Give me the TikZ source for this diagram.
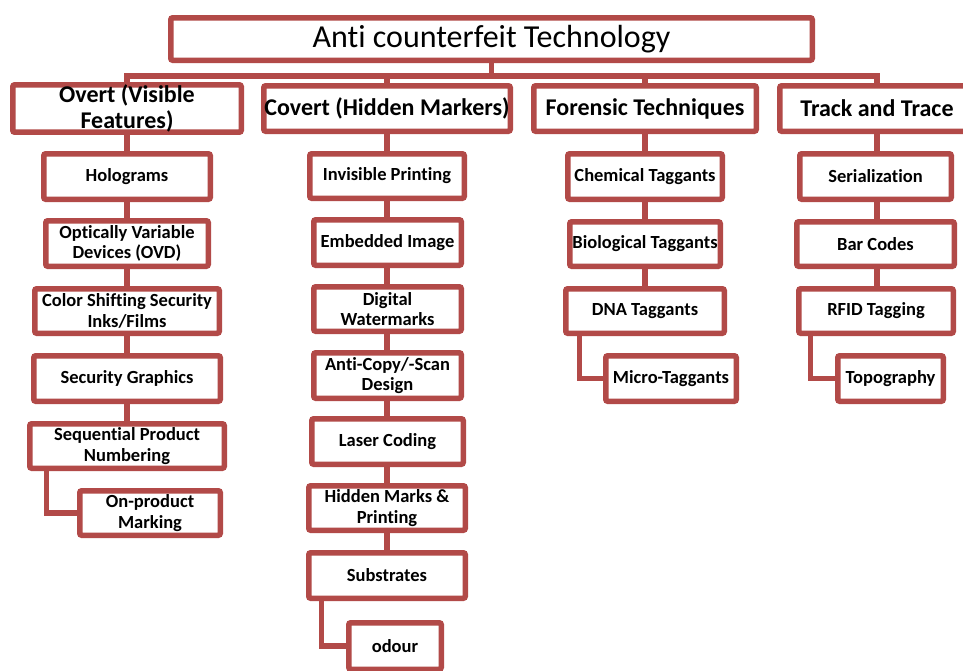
\documentclass[tikz,border=0pt]{standalone}
\usepackage{fontspec}
\setmainfont{Carlito}[Ligatures=NoCommon]
\usetikzlibrary{backgrounds}
\definecolor{boxred}{RGB}{178,74,72}
\tikzset{
  base/.style={draw=boxred, line width=5.5pt, fill=white, rounded corners=2pt,
    inner sep=0pt, align=center, text=black},
  item/.style={base, font=\bfseries\fontsize{18.5}{20.5}\selectfont},
  head/.style={base, font=\bfseries\fontsize{24}{26}\selectfont},
  ttl/.style={base, font=\fontsize{32}{34}\selectfont},
  conn/.style={draw=boxred, line width=5.5pt}
}
\newcommand\mkbox[7]{%
  \pgfmathsetmacro\bcx{(#3+#5)/2}%
  \pgfmathsetmacro\bcy{(#4+#6)/2}%
  \pgfmathsetmacro\bw{#5-#3-5.5}%
  \pgfmathsetmacro\bh{#6-#4-5.5}%
  \node[#1, minimum width=\bw pt, minimum height=\bh pt] (#2) at (\bcx,\bcy) {#7};}
\begin{document}
\begin{tikzpicture}[x=1pt,y=-1pt]
\useasboundingbox (0,0) rectangle (963,670);
\mkbox{ttl}{title}{168}{15}{815}{63}{Anti counterfeit Technology}
\mkbox{head}{overt}{10}{83}{244}{134}{Overt (Visible\\Features)}
\mkbox{head}{covert}{261}{83}{513}{134}{Covert (Hidden Markers)}
\mkbox{head}{foren}{531}{83}{759}{134}{Forensic Techniques}
\mkbox{head}{track}{777}{83}{977}{134}{Track and Trace}
% Overt
\mkbox{item}{holo}{41}{151}{213}{202}{Holograms}
\mkbox{item}{ovd}{43}{218}{211}{269}{Optically Variable\\Devices (OVD)}
\mkbox{item}{color}{32}{286}{222}{336}{Color Shifting Security\\Inks/Films}
\mkbox{item}{secg}{31}{353}{223}{404}{Security Graphics}
\mkbox{item}{seq}{27}{421}{227}{471}{Sequential Product\\Numbering}
\mkbox{item}{onp}{77}{488}{223}{538}{On-product\\Marking}
% Covert
\mkbox{item}{invis}{307}{151}{467}{201}{Invisible Printing}
\mkbox{item}{embed}{311}{217}{464}{268}{Embedded Image}
\mkbox{item}{digit}{311}{284}{464}{334}{Digital\\Watermarks}
\mkbox{item}{anti}{311}{350}{464}{401}{Anti-Copy/-Scan\\Design}
\mkbox{item}{laser}{309}{416}{466}{467}{Laser Coding}
\mkbox{item}{hidden}{306}{483}{468}{533}{Hidden Marks \&\\Printing}
\mkbox{item}{subs}{306}{550}{468}{601}{Substrates}
\mkbox{item}{odour}{346}{620}{444}{672}{odour}
% Forensic
\mkbox{item}{chem}{565}{151}{725}{202}{Chemical Taggants}
\mkbox{item}{bio}{567}{219}{723}{269}{Biological Taggants}
\mkbox{item}{dna}{563}{286}{727}{336}{DNA Taggants}
\mkbox{item}{micro}{603}{353}{739}{404}{Micro-Taggants}
% Track
\mkbox{item}{serial}{797}{151}{954}{202}{Serialization}
\mkbox{item}{bar}{794}{219}{957}{269}{Bar Codes}
\mkbox{item}{rfid}{796}{286}{956}{336}{RFID Tagging}
\mkbox{item}{topo}{835}{353}{946}{404}{Topography}
\begin{scope}[on background layer]
\coordinate (bus) at (0,76);
\draw[conn] (overt.north) |- (bus -| track.north) -- (track.north);
\draw[conn] (title.south) -- (title.south |- bus);
\draw[conn] (covert.north) -- (covert.north |- bus);
\draw[conn] (foren.north) -- (foren.north |- bus);
\draw[conn] (overt.south) -- (overt.south |- seq.north);
\draw[conn] (covert.south) -- (covert.south |- subs.north);
\draw[conn] (foren.south) -- (foren.south |- dna.north);
\draw[conn] (track.south) -- (track.south |- rfid.north);
\draw[conn] ([xshift=19.5pt]seq.south west) |- (onp.west);
\draw[conn] ([xshift=15.5pt]subs.south west) |- (odour.west);
\draw[conn] ([xshift=16.5pt]dna.south west) |- (micro.west);
\draw[conn] ([xshift=14.5pt]rfid.south west) |- (topo.west);
\end{scope}
\end{tikzpicture}
\end{document}
